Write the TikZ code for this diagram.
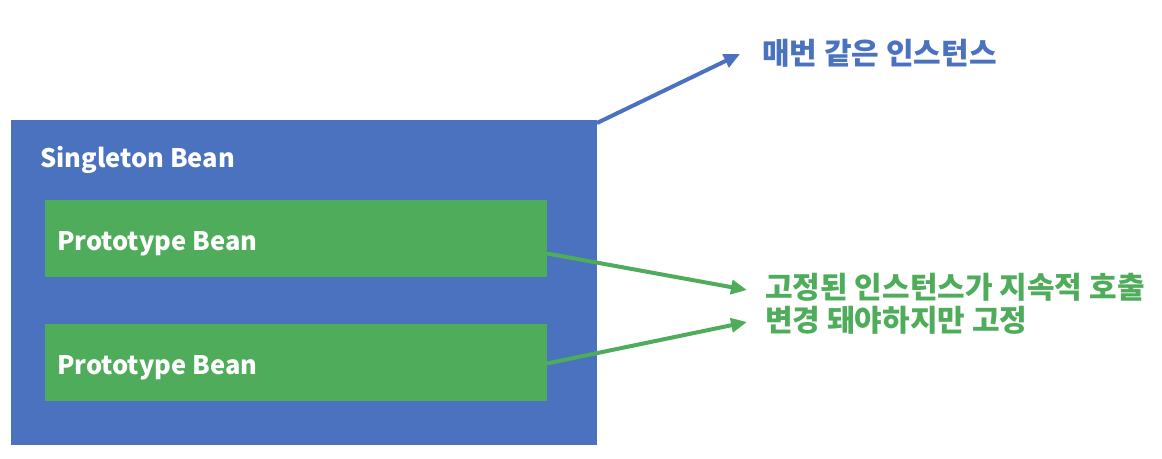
\documentclass[tikz,border=0pt]{standalone}
\usepackage{fontspec}
\setmainfont{Noto Sans CJK KR}
\usetikzlibrary{arrows.meta}
\definecolor{sbblue}{HTML}{4A72BE}
\definecolor{pbgreen}{HTML}{4EAC5B}
\begin{document}
\begin{tikzpicture}[x=1pt,y=1pt,
  box/.style={rectangle, inner sep=0pt, outer sep=0pt, draw=none},
  lbl/.style={inner sep=0pt, font=\fontsize{25.5}{30}\selectfont\bfseries},
  krlbl/.style={inner sep=0pt, font=\fontsize{30}{34}\selectfont\bfseries},
  arr/.style={line width=4pt, -{Triangle[length=16pt,width=14pt]}}]
\useasboundingbox (0,0) rectangle (1162,458);
\node[box, fill=sbblue, minimum width=586pt, minimum height=325pt] (single) at (304,175.5) {};
\node[lbl, text=white, anchor=base west] (singlelbl) at (40,290) {Singleton Bean};
\node[box, fill=pbgreen, minimum width=502pt, minimum height=77pt] (proto1) at (296,219.5) {};
\node[box, fill=pbgreen, minimum width=502pt, minimum height=77pt] (proto2) at (296,95.5) {};
\node[lbl, text=white, anchor=west] (p1lbl) at ([xshift=12pt,yshift=-5pt]proto1.west) {Prototype Bean};
\node[lbl, text=white, anchor=west] (p2lbl) at ([xshift=12pt,yshift=-5pt]proto2.west) {Prototype Bean};
\node[krlbl, text=sbblue, anchor=west] (same) at (762,405) {매번 같은 인스턴스};
\node[krlbl, text=pbgreen, anchor=west] (fixed1) at (765,171) {고정된 인스턴스가 지속적 호출};
\node[krlbl, text=pbgreen, anchor=west] (fixed2) at (765,138) {변경 돼야하지만 고정};
\coordinate (tipb) at (740,404);
\coordinate (tipg1) at (747,168);
\coordinate (tipg2) at (747,136);
\draw[arr, draw=sbblue] ([yshift=-3pt]single.north east) -- (tipb);
\draw[arr, draw=pbgreen] ([yshift=-15pt]proto1.east) -- (tipg1);
\draw[arr, draw=pbgreen] ([yshift=-1pt]proto2.east) -- (tipg2);
\end{tikzpicture}
\end{document}
